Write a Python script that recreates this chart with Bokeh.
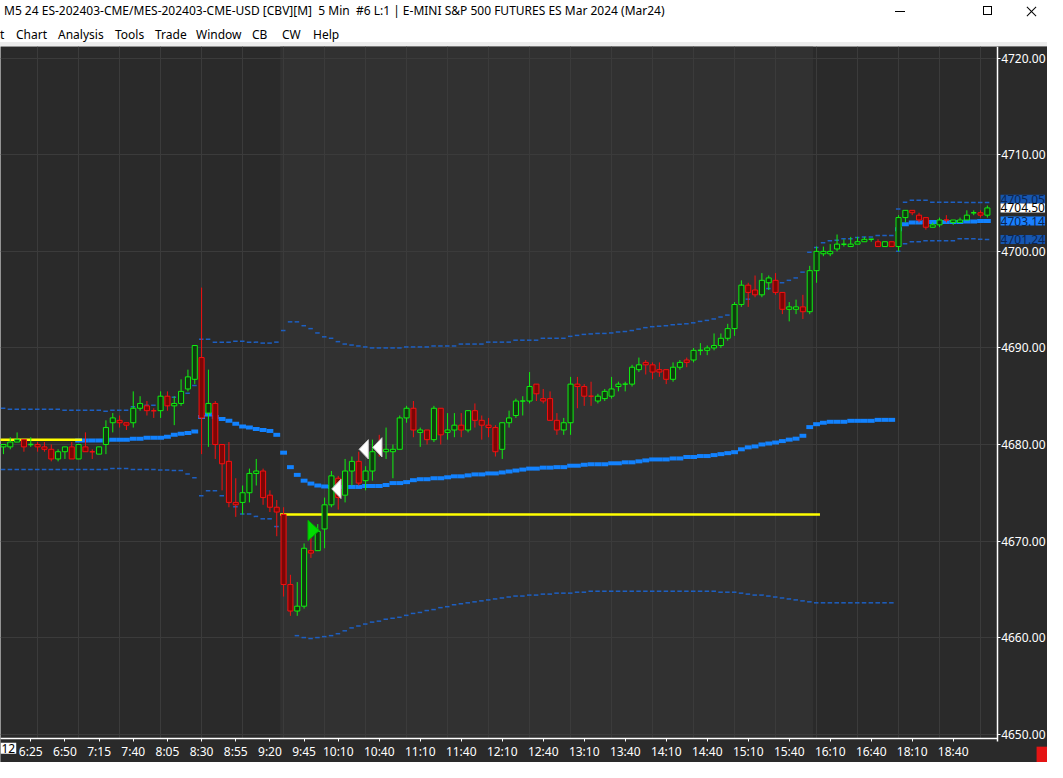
import html

import numpy as np

from bokeh.embed import file_html
from bokeh.layouts import column
from bokeh.models import (BoxAnnotation, ColumnDataSource, Div, FixedTicker, Label,
                          NumeralTickFormatter, Range1d)
from bokeh.plotting import figure
from bokeh.resources import INLINE

FONT = "Noto Sans"
W, H = 1047, 762
HEAD_H = 46

title = ("M5 24 ES-202403-CME/MES-202403-CME-USD [CBV][M]  5 Min  #6 L:1 | "
         "E-MINI S&P 500 FUTURES ES Mar 2024 (Mar24)")
menu_items = ["t", "Chart", "Analysis", "Tools", "Trade", "Window", "CB", "CW", "Help"]
menu_left = [0, 16, 58, 115, 155, 196, 252, 282, 313]

# 5 minute bars, bar 0 = 6:05, bar 131 = 18:00 (after the 17:00-18:00 break)
opens = [
    4679.75, 4679.75, 4680.25, 4680.5, 4680.0, 4680.0, 4679.75, 4679.5, 4678.5, 4679.25,
    4679.75, 4678.5, 4679.75, 4679.25, 4679.0, 4680.0, 4682.25, 4682.5, 4682.25, 4682.25,
    4683.75, 4684.0, 4683.5, 4683.5, 4685.0, 4684.0, 4684.25, 4685.75, 4686.75, 4689.0,
    4683.25, 4684.25, 4680.0, 4678.25, 4674.0, 4674.0, 4675.0, 4677.0, 4677.25, 4674.75,
    4673.5, 4672.75, 4665.5, 4662.75, 4663.25, 4669.0, 4669.0, 4671.25, 4673.75, 4676.5,
    4674.75, 4677.25, 4678.25, 4676.25, 4677.25, 4679.75, 4679.25, 4679.25, 4679.5, 4682.75,
    4683.75, 4681.25, 4681.5, 4680.5, 4683.75, 4681.25, 4681.5, 4682.0, 4681.5, 4683.5,
    4682.5, 4682.0, 4681.75, 4679.5, 4682.25, 4683.0, 4684.5, 4684.5, 4686.25, 4684.75,
    4684.75, 4682.5, 4681.5, 4682.25, 4686.25, 4686.0, 4685.0, 4684.5, 4684.75, 4685.0,
    4686.0, 4686.25, 4686.25, 4687.75, 4688.5, 4688.25, 4687.75, 4687.75, 4686.75, 4688.0,
    4688.75, 4688.75, 4689.75, 4689.75, 4690.0, 4690.25, 4691.0, 4692.0, 4694.5, 4696.5,
    4696.0, 4695.5, 4696.75, 4697.0, 4695.75, 4694.0, 4694.0, 4694.25, 4693.75, 4698.0,
    4699.75, 4699.75, 4700.25, 4700.75, 4700.5, 4700.75, 4701.0, 4701.25, 4701.0, 4700.5,
    4701.0, 4700.5, 4703.5, 4704.25, 4703.75, 4703.5, 4702.5, 4702.75, 4703.25, 4703.0,
    4703.0, 4703.25, 4704.0, 4704.0, 4703.75,
]
highs = [
    4680.0, 4680.75, 4681.25, 4680.5, 4680.75, 4680.25, 4680.25, 4680.0, 4679.5, 4679.75,
    4680.25, 4680.0, 4681.25, 4679.5, 4679.75, 4682.5, 4683.25, 4683.0, 4682.25, 4685.5,
    4685.0, 4684.5, 4683.75, 4685.5, 4685.5, 4685.0, 4686.75, 4687.75, 4690.25, 4696.25,
    4687.75, 4684.5, 4680.0, 4680.25, 4676.5, 4675.75, 4677.5, 4678.5, 4677.5, 4675.25,
    4674.25, 4673.5, 4666.5, 4665.75, 4669.75, 4670.5, 4671.75, 4674.5, 4677.25, 4676.75,
    4678.5, 4678.75, 4679.25, 4677.75, 4680.5, 4681.0, 4681.75, 4680.0, 4683.0, 4684.0,
    4684.5, 4681.75, 4681.5, 4684.0, 4683.75, 4683.25, 4683.25, 4683.25, 4683.5, 4684.25,
    4683.0, 4682.75, 4682.0, 4682.25, 4683.5, 4684.75, 4685.0, 4687.5, 4686.25, 4685.75,
    4685.5, 4683.25, 4682.75, 4687.0, 4687.0, 4686.25, 4686.5, 4685.25, 4685.75, 4687.0,
    4686.5, 4686.5, 4688.25, 4689.0, 4688.75, 4688.5, 4688.5, 4687.75, 4688.5, 4688.75,
    4689.0, 4690.0, 4690.5, 4690.25, 4691.5, 4691.5, 4692.5, 4694.75, 4697.0, 4696.75,
    4697.5, 4697.75, 4697.5, 4697.75, 4695.75, 4694.75, 4695.0, 4695.5, 4698.5, 4700.5,
    4700.5, 4700.75, 4701.75, 4701.25, 4701.5, 4701.5, 4701.5, 4701.25, 4701.25, 4701.0,
    4701.0, 4703.75, 4704.25, 4704.25, 4704.0, 4703.5, 4703.0, 4703.5, 4703.75, 4703.25,
    4703.5, 4704.25, 4704.25, 4704.25, 4704.75,
]
lows = [
    4679.0, 4679.5, 4680.25, 4679.25, 4679.75, 4679.25, 4679.25, 4678.25, 4678.25, 4678.5,
    4678.5, 4678.5, 4679.25, 4678.5, 4679.0, 4679.0, 4681.25, 4681.75, 4681.5, 4681.75,
    4683.5, 4683.0, 4682.75, 4682.75, 4683.5, 4682.0, 4684.0, 4685.5, 4686.25, 4679.0,
    4679.75, 4678.5, 4675.25, 4673.5, 4672.5, 4672.75, 4674.0, 4675.75, 4673.75, 4673.0,
    4670.5, 4664.25, 4662.25, 4662.25, 4663.0, 4668.25, 4669.0, 4669.25, 4673.5, 4673.25,
    4674.0, 4675.75, 4675.75, 4675.25, 4676.25, 4678.75, 4678.5, 4676.5, 4679.5, 4682.25,
    4680.75, 4679.75, 4680.0, 4680.25, 4680.0, 4680.5, 4680.75, 4680.75, 4681.25, 4681.75,
    4680.5, 4680.75, 4678.75, 4678.5, 4681.75, 4682.75, 4683.0, 4684.25, 4684.5, 4684.25,
    4682.5, 4681.0, 4681.0, 4681.0, 4683.75, 4684.0, 4684.0, 4684.25, 4684.5, 4684.75,
    4685.5, 4685.5, 4686.0, 4687.5, 4687.25, 4686.75, 4687.0, 4686.25, 4686.5, 4687.75,
    4688.0, 4688.5, 4689.25, 4689.25, 4689.75, 4690.0, 4690.75, 4691.25, 4694.25, 4694.25,
    4695.25, 4695.25, 4696.0, 4695.5, 4693.5, 4692.75, 4693.5, 4693.0, 4693.5, 4696.75,
    4699.5, 4699.5, 4700.0, 4700.5, 4700.5, 4700.75, 4701.0, 4701.0, 4700.5, 4700.5,
    4700.5, 4700.0, 4703.0, 4703.75, 4703.0, 4702.25, 4702.5, 4702.5, 4703.0, 4702.75,
    4703.0, 4703.25, 4703.75, 4703.5, 4703.5,
]
closes = [
    4680.0, 4680.25, 4680.5, 4679.75, 4680.0, 4679.75, 4679.5, 4678.5, 4679.25, 4679.75,
    4678.5, 4680.0, 4679.25, 4679.25, 4679.75, 4681.75, 4682.75, 4682.25, 4682.0, 4683.75,
    4684.25, 4683.5, 4683.5, 4685.0, 4684.0, 4684.25, 4685.5, 4687.0, 4690.25, 4682.75,
    4684.25, 4680.0, 4678.0, 4674.0, 4673.75, 4675.0, 4677.0, 4677.25, 4674.5, 4673.5,
    4673.0, 4665.5, 4662.75, 4663.25, 4669.25, 4668.75, 4671.0, 4673.75, 4676.75, 4674.5,
    4677.25, 4678.25, 4676.0, 4677.25, 4679.25, 4679.25, 4679.5, 4679.5, 4682.75, 4683.75,
    4681.5, 4681.5, 4680.5, 4683.75, 4681.0, 4681.5, 4682.0, 4681.5, 4683.5, 4682.5,
    4682.0, 4681.75, 4679.25, 4682.25, 4682.75, 4684.5, 4684.5, 4686.0, 4685.25, 4684.5,
    4682.5, 4681.5, 4682.25, 4686.25, 4686.0, 4685.0, 4685.0, 4685.0, 4685.5, 4685.75,
    4686.25, 4686.25, 4688.0, 4688.25, 4688.25, 4687.5, 4687.5, 4686.75, 4688.0, 4688.5,
    4688.5, 4689.75, 4689.75, 4690.0, 4690.25, 4691.0, 4692.0, 4694.5, 4696.5, 4695.75,
    4695.5, 4697.0, 4697.25, 4695.75, 4694.0, 4694.25, 4694.25, 4693.75, 4698.0, 4700.0,
    4700.0, 4700.0, 4700.75, 4700.75, 4700.75, 4701.0, 4701.25, 4701.25, 4700.5, 4701.0,
    4700.5, 4703.5, 4704.25, 4704.0, 4703.25, 4702.5, 4702.75, 4703.25, 4703.25, 4703.25,
    4703.25, 4703.75, 4704.0, 4703.75, 4704.5,
]
red_doji_bars = [13, 22, 86, 138]

# VWAP and bands per session: (first bar, values)
vwap_sessions = [
    (11, [4680.4, 4680.4, 4680.4, 4680.4, 4680.4, 4680.5, 4680.5, 4680.5, 4680.6, 4680.6,
          4680.7, 4680.7, 4680.7, 4680.8, 4681.0, 4681.1, 4681.2, 4681.35, 4682.85, 4683.1,
          4682.85, 4682.65, 4682.45, 4682.15, 4681.85, 4681.75, 4681.6, 4681.5, 4681.4, 4681.0]),
    (41, [4679.15, 4677.65, 4676.85, 4676.25, 4675.95, 4675.75, 4675.65, 4675.6, 4675.6, 4675.6,
          4675.6, 4675.6, 4675.7, 4675.7, 4675.7, 4675.8, 4676.0, 4676.0, 4676.1, 4676.3,
          4676.4, 4676.4, 4676.5, 4676.5, 4676.6, 4676.7, 4676.7, 4676.8, 4676.9, 4676.9,
          4677.0, 4677.0, 4677.1, 4677.2, 4677.3, 4677.4, 4677.5, 4677.5, 4677.6, 4677.6,
          4677.65, 4677.65, 4677.8, 4677.8, 4677.9, 4677.95, 4677.95, 4677.95, 4678.05, 4678.05,
          4678.15, 4678.15, 4678.25, 4678.35, 4678.45, 4678.45, 4678.45, 4678.55, 4678.55, 4678.7,
          4678.7, 4678.8, 4678.8, 4678.9, 4679.0, 4679.1, 4679.2, 4679.5, 4679.7, 4679.8,
          4680.0, 4680.1, 4680.2, 4680.35, 4680.5, 4680.6, 4680.9, 4681.8, 4682.1, 4682.25,
          4682.35, 4682.35, 4682.35, 4682.45, 4682.45, 4682.45, 4682.45, 4682.55, 4682.55, 4682.55]),
    (131, [4702.3, 4702.8, 4703.0, 4703.0, 4703.05, 4703.05, 4703.05, 4703.05, 4703.05, 4703.05,
           4703.1, 4703.1, 4703.14, 4703.14]),
]
upper_sessions = [
    (0, [4683.75, 4683.65, 4683.65, 4683.65, 4683.65, 4683.65, 4683.65, 4683.65, 4683.65, 4683.55,
         4683.55, 4683.55, 4683.55, 4683.55, 4683.55, 4683.45, 4683.55, 4683.55, 4683.55, 4683.9,
         4683.9, 4684.05, 4684.05, 4684.3, 4684.3, 4684.9, 4685.1, 4685.3, 4686.1, 4690.9,
         4690.9, 4690.6, 4690.6, 4690.6, 4690.7, 4690.7, 4690.6, 4690.6, 4690.5, 4690.5, 4690.6]),
    (41, [4691.8, 4692.7, 4692.7, 4692.3, 4692.0, 4691.55, 4691.15, 4691.0, 4690.65, 4690.4,
          4690.3, 4690.2, 4690.1, 4690.0, 4690.0, 4690.0, 4690.0, 4690.0, 4690.1, 4690.1,
          4690.1, 4690.1, 4690.2, 4690.2, 4690.2, 4690.2, 4690.4, 4690.4, 4690.4, 4690.4,
          4690.6, 4690.6, 4690.6, 4690.6, 4690.8, 4690.8, 4690.8, 4690.8, 4691.0, 4691.0,
          4691.0, 4691.0, 4691.2, 4691.3, 4691.4, 4691.45, 4691.5, 4691.5, 4691.55, 4691.65,
          4691.7, 4691.8, 4691.95, 4692.1, 4692.2, 4692.25, 4692.3, 4692.4, 4692.45, 4692.5,
          4692.6, 4692.75, 4692.85, 4693.0, 4693.2, 4693.4, 4693.5, 4695.0, 4695.05, 4695.6,
          4696.1, 4696.15, 4696.7, 4696.75, 4697.0, 4697.25, 4697.85, 4699.9, 4700.4, 4700.9,
          4701.1, 4701.15, 4701.3, 4701.3, 4701.45, 4701.5, 4701.5, 4701.65, 4701.65, 4701.65]),
    (131, [4704.4, 4705.1, 4705.3, 4705.3, 4705.3, 4705.1, 4705.1, 4705.1, 4705.1, 4705.1,
           4705.05, 4705.05, 4705.05, 4705.05]),
]
lower_sessions = [
    (0, [4677.4, 4677.4, 4677.4, 4677.4, 4677.4, 4677.4, 4677.4, 4677.4, 4677.4, 4677.4,
         4677.4, 4677.4, 4677.4, 4677.4, 4677.4, 4677.4, 4677.5, 4677.5, 4677.5, 4677.4,
         4677.4, 4677.4, 4677.4, 4677.35, 4677.35, 4677.3, 4677.3, 4676.95, 4676.55, 4674.7,
         4675.2, 4675.2, 4674.7, 4674.3, 4673.55, 4672.8, 4672.8, 4672.55, 4672.3, 4672.3, 4671.5]),
    (41, [4666.6, 4662.9, 4660.2, 4660.0, 4659.9, 4660.0, 4660.1, 4660.2, 4660.4, 4660.7,
          4661.0, 4661.2, 4661.4, 4661.6, 4661.7, 4661.9, 4662.0, 4662.1, 4662.3, 4662.5,
          4662.6, 4662.8, 4662.9, 4663.1, 4663.2, 4663.4, 4663.5, 4663.6, 4663.7, 4663.8,
          4663.9, 4664.0, 4664.1, 4664.2, 4664.3, 4664.3, 4664.4, 4664.4, 4664.5, 4664.5,
          4664.6, 4664.6, 4664.6, 4664.7, 4664.7, 4664.8, 4664.8, 4664.8, 4664.8, 4664.8,
          4664.8, 4664.8, 4664.8, 4664.8, 4664.8, 4664.8, 4664.8, 4664.8, 4664.8, 4664.8,
          4664.8, 4664.8, 4664.8, 4664.8, 4664.7, 4664.7, 4664.7, 4664.6, 4664.5, 4664.4,
          4664.4, 4664.3, 4664.2, 4664.1, 4664.0, 4663.9, 4663.8, 4663.7, 4663.6, 4663.6,
          4663.6, 4663.6, 4663.6, 4663.6, 4663.6, 4663.6, 4663.6, 4663.6, 4663.6, 4663.6]),
    (131, [4700.0, 4700.8, 4701.0, 4701.0, 4701.1, 4701.1, 4701.1, 4701.1, 4701.1, 4701.3,
           4701.3, 4701.3, 4701.25, 4701.24]),
]

# reference levels: price, first bar, last bar
level_prices = [4680.5, 4672.75]
level_first = [0, 41]
level_last = [11, 119]

buy_bars, buy_prices = [45], [4671.1]
sell_bars, sell_prices = [49, 53, 55], [4675.4, 4679.5, 4679.7]

rth_first, rth_last = 41, 118

tick_bars = [4, 9, 14, 19, 24, 29, 34, 39, 44, 49, 55, 61, 67, 73, 79, 85, 91, 97, 103,
             109, 115, 121, 127, 133, 139]
tick_labels = ["6:25", "6:50", "7:15", "7:40", "8:05", "8:30", "8:55", "9:20", "9:45",
               "10:10", "10:40", "11:10", "11:40", "12:10", "12:40", "13:10", "13:40",
               "14:10", "14:40", "15:10", "15:40", "16:10", "16:40", "18:10", "18:40"]
half_hour_bars = [5, 11, 17, 23, 29, 35, 41, 47, 53, 59, 65, 71, 77, 83, 89, 95, 101, 107,
                  113, 119, 125, 131, 137, 143]
price_ticks = [4650, 4660, 4670, 4680, 4690, 4700, 4710, 4720]

# right-hand price tags
tag_text = ["4705.05", "4704.50", "4703.14", "4701.24"]
tag_price = [4705.4, 4704.5, 4703.14, 4701.24]
tag_fill = ["#1656b0", "#ffffff", "#1a80ff", "#1656b0"]
tag_color = ["#0c2550", "#000000", "#0c2550", "#0c2550"]

BG = "#2a2a2a"
RTH_BG = "#313131"
GRID = "#3b3b3b"
UP, UP_FILL = "#10ee10", "#0f3a0f"
DN, DN_FILL = "#f41010", "#7c0606"
VWAP = "#1282ff"
BAND = "#1d5fc2"

# visible window in bar / price units; the axes sit at AXIS_X and AXIS_Y
X0, X1 = -0.43, 152.8
Y0, Y1 = 4647.06, 4721.22
AXIS_X, AXIS_Y = 145.43, 4649.5

p = figure(width=W, height=H - HEAD_H, x_range=Range1d(X0, X1), y_range=Range1d(Y0, Y1),
           y_axis_location="right", toolbar_location=None, output_backend="svg",
           background_fill_color=BG, border_fill_color=BG, outline_line_color=None,
           min_border_left=0, min_border_top=0, min_border_right=0, min_border_bottom=0)

p.add_layout(BoxAnnotation(left=rth_first - 0.5, right=rth_last + 0.5, bottom=AXIS_Y,
                           fill_color=RTH_BG, fill_alpha=1, line_color=None, level="image"))

for ax in (p.xaxis[0], p.yaxis[0]):
    ax.axis_line_color = "white"
    ax.axis_line_width = 1.5
    ax.major_tick_line_color = "white"
    ax.major_tick_out = 3
    ax.major_tick_in = 0
    ax.minor_tick_line_color = None
    ax.major_label_text_color = "white"
    ax.major_label_text_font = FONT
    ax.major_label_text_font_size = "12px"
    ax.major_label_standoff = 1

p.xaxis.ticker = FixedTicker(ticks=tick_bars)
p.xaxis.major_label_overrides = dict(zip(tick_bars, tick_labels))
p.xaxis.fixed_location = AXIS_Y
p.xaxis.bounds = (X0, AXIS_X)
p.yaxis.ticker = FixedTicker(ticks=price_ticks)
p.yaxis.formatter = NumeralTickFormatter(format="0.00")
p.yaxis.fixed_location = AXIS_X
p.yaxis.bounds = (AXIS_Y - 0.3, Y1)
p.xgrid.ticker = FixedTicker(ticks=half_hour_bars)
p.grid.grid_line_color = GRID

# keep the grid out of the axis label strips
p.add_layout(BoxAnnotation(left=AXIS_X, fill_color=BG, fill_alpha=1, line_color=None,
                           level="underlay"))
p.add_layout(BoxAnnotation(top=AXIS_Y, fill_color=BG, fill_alpha=1, line_color=None,
                           level="underlay"))

# session lines: dashed bands, thick stepped VWAP
for sessions, width, x0, x1, color in ((upper_sessions, 1.5, -0.38, 0.28, BAND),
                                       (lower_sessions, 1.5, -0.38, 0.28, BAND),
                                       (vwap_sessions, 4, -0.5, 0.5, VWAP)):
    for first, vals in sessions:
        xs = first + np.arange(len(vals))
        p.segment(x0=xs + x0, x1=xs + x1, y0=vals, y1=vals, line_color=color,
                  line_width=width, line_cap="butt")

# reference levels
p.segment(x0=np.array(level_first) - 0.5, x1=np.array(level_last) + 0.5,
          y0=level_prices, y1=level_prices, line_color="#ffff00", line_width=2.5)

# candles
o, h, lo, c = (np.array(a) for a in (opens, highs, lows, closes))
bars = np.arange(len(o))
up = (c > o) | ((c == o) & ~np.isin(bars, red_doji_bars))
src = ColumnDataSource(dict(
    x=bars, top=np.maximum(o, c), bottom=np.minimum(o, c), high=h, low=lo, close=c,
    line=np.where(up, UP, DN), fill=np.where(up, UP_FILL, DN_FILL),
))
p.segment(x0="x", x1="x", y0="low", y1="high", line_color="line", line_width=1, source=src)
body = c != o
body_src = ColumnDataSource({k: v[body] for k, v in src.data.items()})
p.vbar(x="x", width=0.74, top="top", bottom="bottom", fill_color="fill", line_color="line",
       line_width=1, source=body_src)
doji_src = ColumnDataSource({k: v[~body] for k, v in src.data.items()})
doji_src.data["x0"] = doji_src.data["x"] - 0.37
doji_src.data["x1"] = doji_src.data["x"] + 0.37
p.segment(x0="x0", x1="x1", y0="close", y1="close", line_color="line", line_width=1.5,
          source=doji_src)

# signal arrows
p.patches(xs=[[b - 0.43, b - 0.43, b + 1.24] for b in buy_bars],
          ys=[[y + 1.05, y - 1.05, y] for y in buy_prices],
          fill_color="#00dd00", line_color="#00b000", line_width=1)
p.patches(xs=[[b + 0.4, b + 0.4, b - 0.95] for b in sell_bars],
          ys=[[y + 1.0, y - 1.0, y] for y in sell_prices],
          fill_color="#ffffff", line_color="#c8c8c8", line_width=1)

# price tags right of the price axis
for t, pr, fc, tc in zip(tag_text, tag_price, tag_fill, tag_color):
    p.add_layout(Label(x=AXIS_X + 0.5, y=pr, text=t, text_font=FONT, text_font_size="12px",
                       text_color=tc, text_baseline="middle", text_align="left",
                       background_fill_color=fc, padding=0))

# date tag at the left end of the time axis
p.add_layout(Label(x=X0, y=AXIS_Y - 0.4, text="12", text_font=FONT,
                   text_font_size="12px", text_color="#000000", text_baseline="top",
                   text_align="left", background_fill_color="#ffffff", padding=1))

# red status square in the bottom right corner
p.add_layout(BoxAnnotation(left=151.2, top=AXIS_Y - 0.8, fill_color="#e41414", fill_alpha=1,
                           line_color=None))

menu_html = "".join(
    f'<div style="position:absolute;left:{x}px;top:27px;">{html.escape(m)}</div>'
    for m, x in zip(menu_items, menu_left)
)
head_html = f"""
<div style="position:relative;width:{W}px;height:{HEAD_H}px;background:#ffffff;overflow:hidden;
font-family:'{FONT}';font-size:12px;color:#000000;line-height:16px;">
<div style="position:absolute;left:4px;top:3px;white-space:pre;">{html.escape(title)}</div>
<div style="position:absolute;left:895px;top:11px;width:10px;height:1px;background:#000;"></div>
<div style="position:absolute;left:983px;top:6px;width:9px;height:9px;border:1px solid #000;"></div>
<div style="position:absolute;left:1025px;top:11px;width:13px;height:1px;background:#000;transform:rotate(45deg);"></div>
<div style="position:absolute;left:1025px;top:11px;width:13px;height:1px;background:#000;transform:rotate(-45deg);"></div>
{menu_html}
<div style="position:absolute;left:0;top:42px;width:{W}px;height:4px;background:#ececec;"></div>
</div>
"""
head = Div(text=head_html, width=W, height=HEAD_H, margin=(0, 0, 0, 0))

layout = column(head, p, spacing=0, margin=(0, 0, 0, 0))
open("out.html", "w").write(file_html(layout, INLINE))
